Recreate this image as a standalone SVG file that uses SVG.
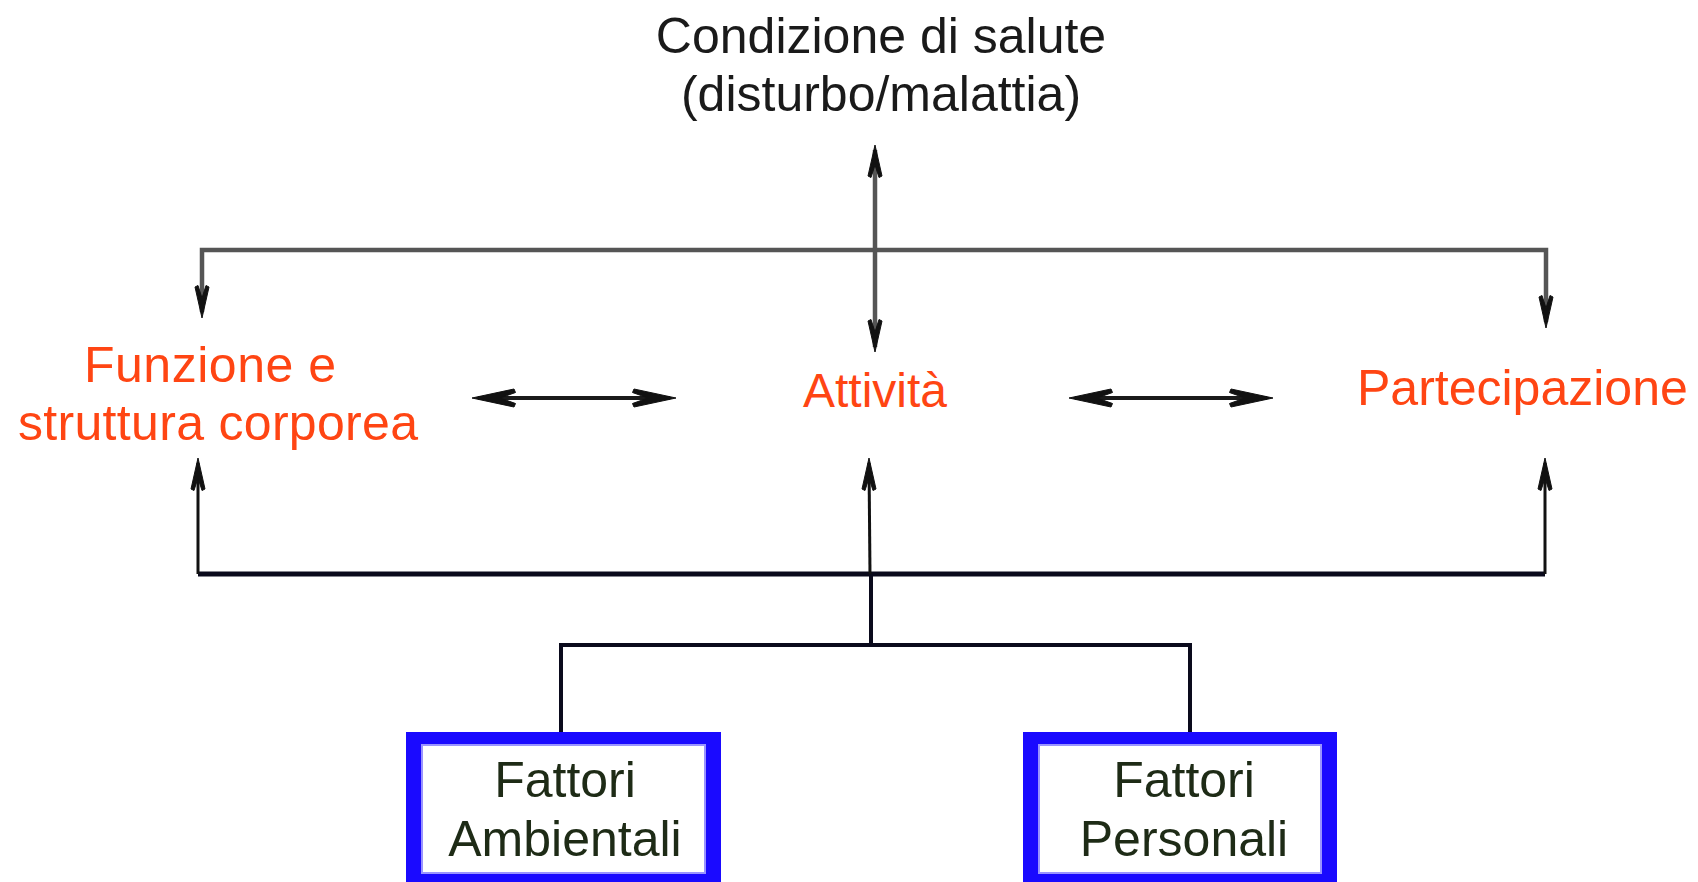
<svg xmlns="http://www.w3.org/2000/svg" width="1698" height="882" viewBox="0 0 1698 882">
<style>
text{font-family:"Liberation Sans",Arial,sans-serif;font-size:50px}
.top{fill:#1a1a1a;text-anchor:middle}
.comp{fill:#ff4513}
.fac{fill:#1e2b16;text-anchor:middle}
.gline{fill:none;stroke:#555;stroke-width:4.5}
.bline{fill:none;stroke:#0a0a1c;stroke-width:4}
.thin{fill:none;stroke:#111;stroke-width:3}
.hline{fill:none;stroke:#1a1a1a;stroke-width:4}
.box{fill:#1a0aff}
.inner{fill:#fff;stroke:#9a94ff;stroke-width:2}
</style>
<defs>
<path id="ah" d="M0,0 L7,31 L4,32.5 L0,20 L-4,32.5 L-7,31 Z" fill="#111" stroke="#111" stroke-width="1"/>
<path id="ahb" d="M0,0 L9,42 L5.5,43.5 L0,28 L-5.5,43.5 L-9,42 Z" fill="#111" stroke="#111" stroke-width="1"/>
</defs>
<g id="connectors">
<path class="gline" d="M202,312 L202,250 L1546,250 L1546,322"/>
<use href="#ah" transform="translate(202,318) rotate(180)"/>
<use href="#ah" transform="translate(1546,328) rotate(180)"/>
<path class="gline" d="M875,150 L875,347"/>
<use href="#ah" transform="translate(875,145)"/>
<use href="#ah" transform="translate(875,352) rotate(180)"/>
<path class="hline" d="M478,398 L670,398"/>
<use href="#ahb" transform="translate(472,398) rotate(-90)"/>
<use href="#ahb" transform="translate(676,398) rotate(90)"/>
<path class="hline" d="M1075,398 L1267,398"/>
<use href="#ahb" transform="translate(1069,398) rotate(-90)"/>
<use href="#ahb" transform="translate(1273,398) rotate(90)"/>
<path class="bline" d="M198,574 L1545,574" style="stroke-width:5"/>
<path class="thin" d="M198,574 L198,463"/>
<use href="#ah" transform="translate(198,458)"/>
<path class="thin" d="M870,574 L869,463"/>
<use href="#ah" transform="translate(869,458)"/>
<path class="thin" d="M1545,574 L1545,463"/>
<use href="#ah" transform="translate(1545,458)"/>
<path class="bline" d="M871,574 L871,645"/>
<path class="bline" d="M561,732 L561,645 L1190,645 L1190,732"/>
</g>
<g id="health">
<text class="top" x="881" y="53">Condizione di salute</text>
<text class="top" x="881" y="111">(disturbo/malattia)</text>
</g>
<g id="body">
<text class="comp" x="84" y="382" textLength="252">Funzione e</text>
<text class="comp" x="18" y="440" textLength="400">struttura corporea</text>
</g>
<g id="activity">
<text class="comp" x="803" y="407" style="font-size:48px">Attività</text>
</g>
<g id="participation">
<text class="comp" x="1357" y="405">Partecipazione</text>
</g>
<g id="env">
<rect class="box" x="406" y="732" width="315" height="152"/>
<rect class="inner" x="422" y="745" width="283" height="128"/>
<text class="fac" x="565" y="797">Fattori</text>
<text class="fac" x="565" y="856">Ambientali</text>
</g>
<g id="pers">
<rect class="box" x="1023" y="732" width="314" height="152"/>
<rect class="inner" x="1039" y="745" width="282" height="128"/>
<text class="fac" x="1184" y="797">Fattori</text>
<text class="fac" x="1184" y="856">Personali</text>
</g>
</svg>
